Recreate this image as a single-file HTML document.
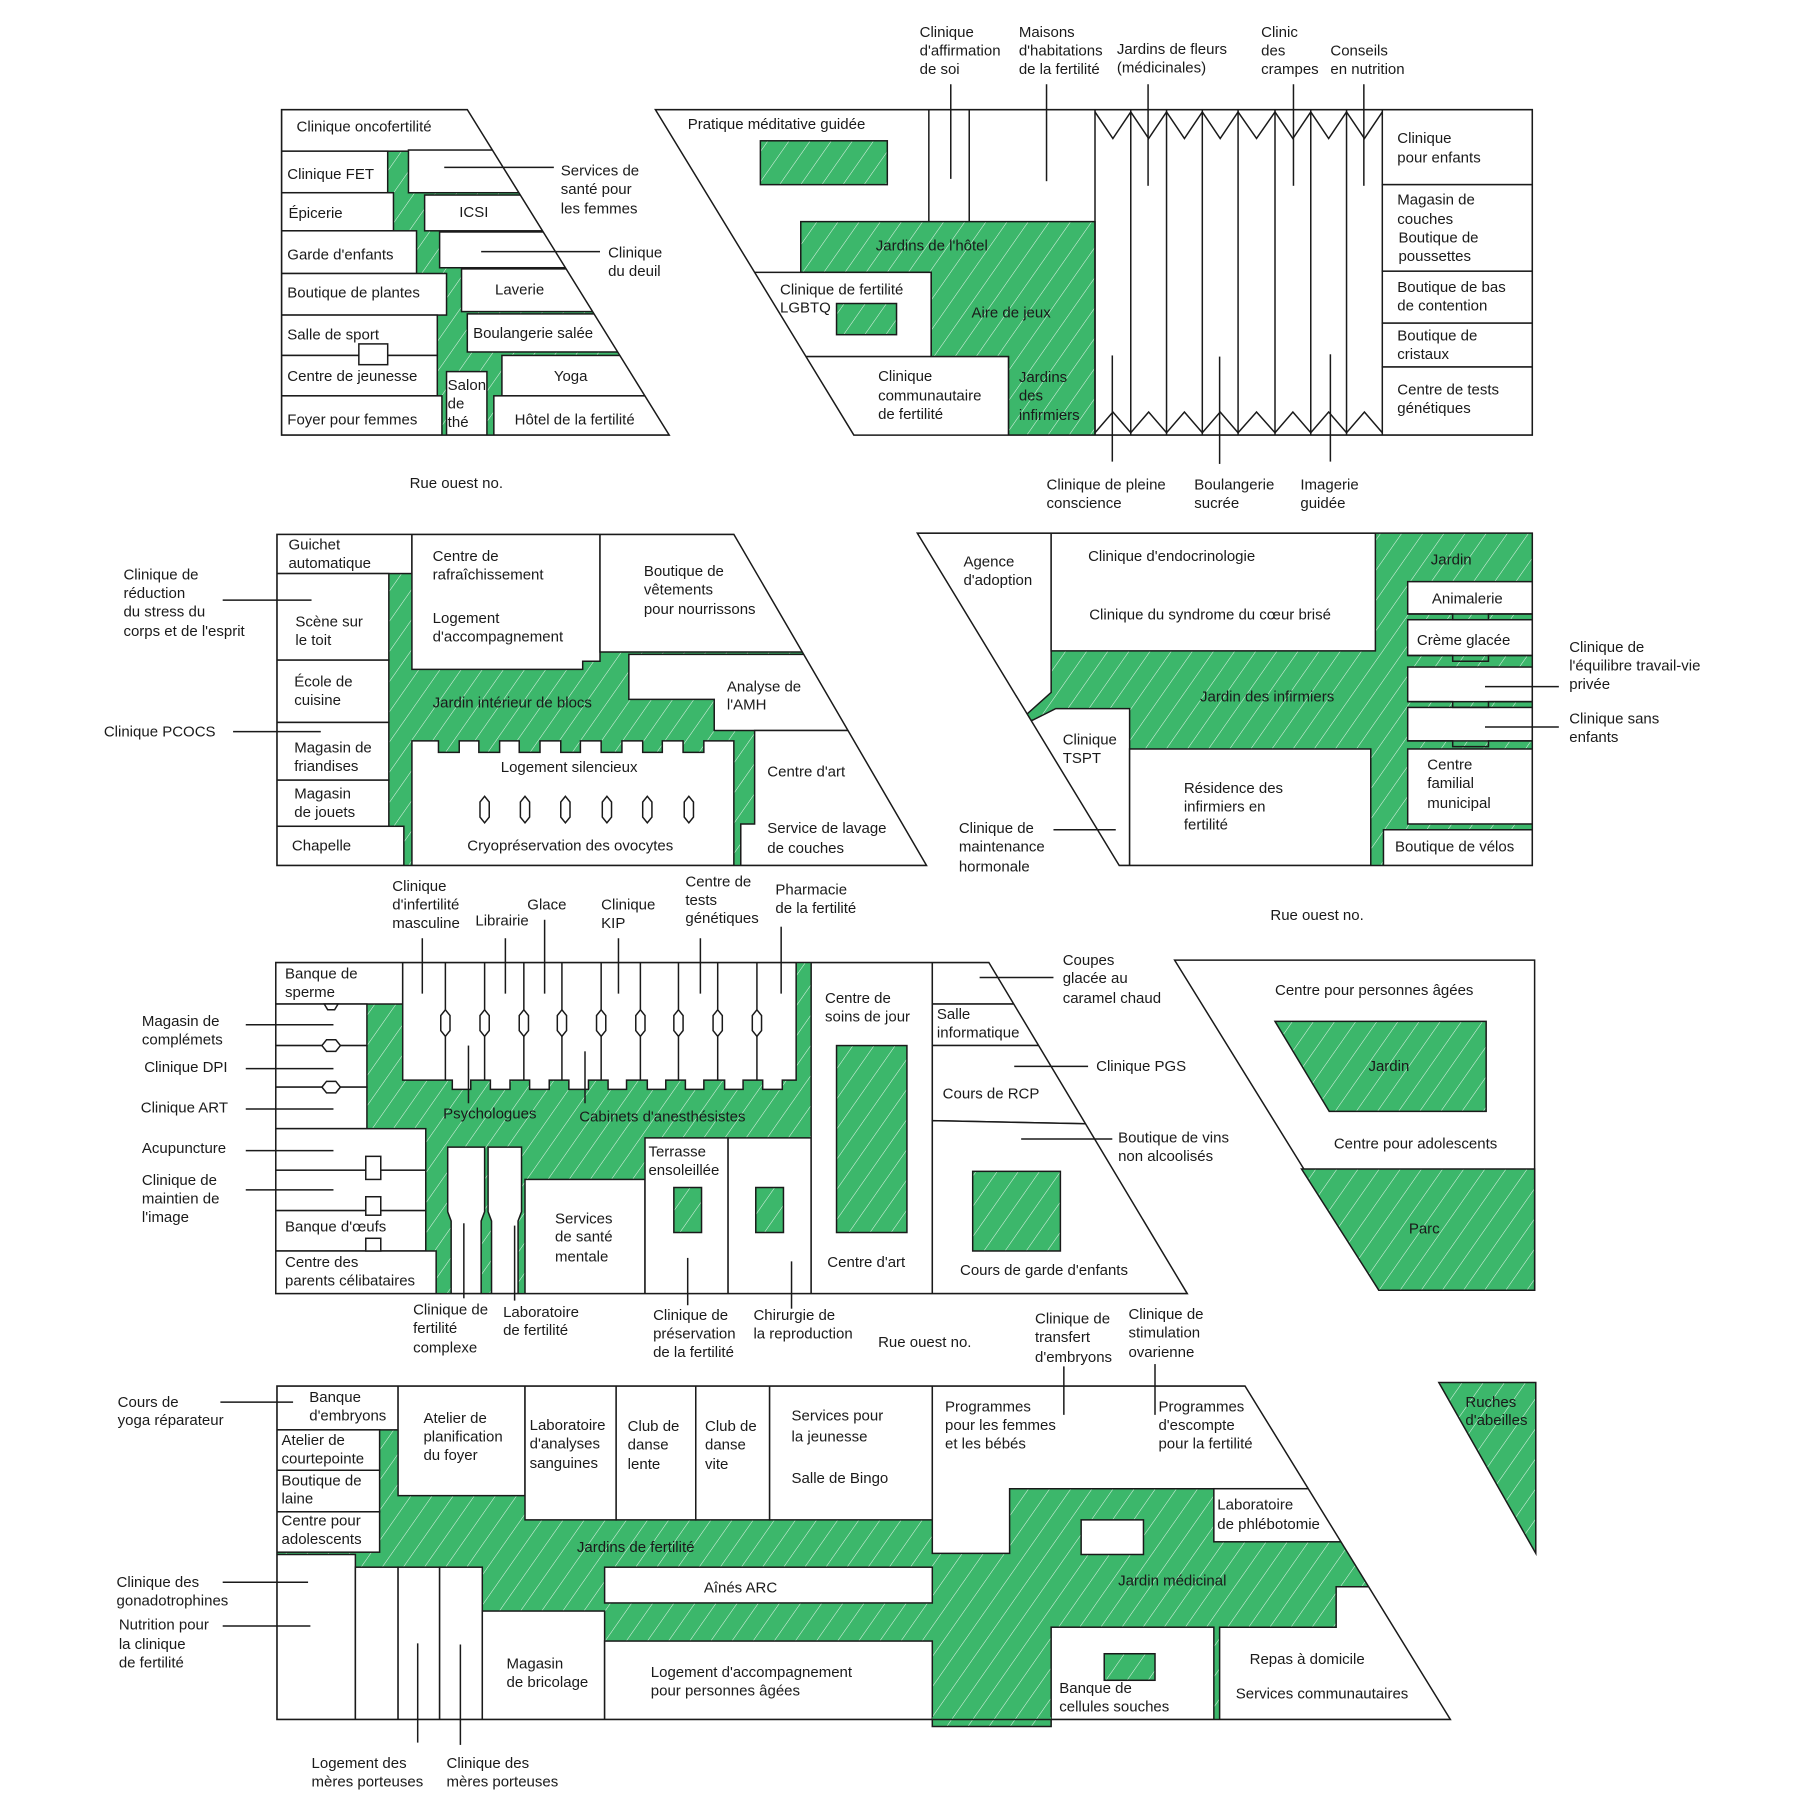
<!DOCTYPE html>
<html><head><meta charset="utf-8"><style>
html,body{margin:0;padding:0;background:#fff}
svg{display:block}
.b{fill:#fff;stroke:#1a1a1a;stroke-width:1.3}
.g{fill:url(#h);stroke:#1a1a1a;stroke-width:1.3}
.gf{fill:url(#h)}
.l{stroke:#1a1a1a;stroke-width:1.3;fill:none}
text{font-family:"Liberation Sans",sans-serif;font-size:13px;fill:#1a1a1a}
</style></head><body>
<svg width="1800" height="1813" viewBox="0 0 1560 1571" preserveAspectRatio="none" xmlns="http://www.w3.org/2000/svg">
<defs>
<pattern id="h" width="15" height="15" patternUnits="userSpaceOnUse" patternTransform="rotate(35)">
<rect width="15" height="15" fill="#3cb76b"/><line x1="0" y1="0" x2="0" y2="15" stroke="#fff" stroke-width="0.9" stroke-opacity="0.85"/></pattern>
<clipPath id="c1"><polygon points="244,95 405,95 580,377 244,377"/></clipPath>
<clipPath id="c2"><polygon points="568,95 1328,95 1328,377 740,377"/></clipPath>
<clipPath id="c3"><polygon points="240,463 636,463 803,750 240,750"/></clipPath>
<clipPath id="c4"><polygon points="795,462 1328,462 1328,750 970,750"/></clipPath>
<clipPath id="c5"><polygon points="239,834 857,834 1029,1121 239,1121"/></clipPath>
<clipPath id="c7"><polygon points="240,1201 1079,1201 1257,1490 240,1490"/></clipPath>
</defs>

<!-- ============ BLOCK 1 ============ -->
<g clip-path="url(#c1)">
<rect class="gf" x="240" y="90" width="350" height="290"/>
<rect class="b" x="244" y="95" width="400" height="36"/>
<rect class="b" x="244" y="131" width="92" height="36"/>
<rect class="b" x="244" y="167" width="97" height="33"/>
<rect class="b" x="244" y="200" width="117" height="37"/>
<rect class="b" x="244" y="237" width="143" height="36"/>
<rect class="b" x="244" y="273" width="135" height="35"/>
<rect class="b" x="244" y="308" width="135" height="35"/>
<rect class="b" x="244" y="343" width="139" height="34"/>
<rect class="b" x="311" y="298" width="25" height="18"/>
<rect class="b" x="354" y="130" width="300" height="37"/>
<rect class="b" x="368" y="169" width="300" height="31"/>
<rect class="b" x="381" y="201" width="300" height="31"/>
<rect class="b" x="400" y="233" width="300" height="37"/>
<rect class="b" x="405" y="272" width="300" height="33"/>
<rect class="b" x="435" y="308" width="300" height="35"/>
<rect class="b" x="428" y="343" width="300" height="34"/>
<rect class="b" x="387" y="322" width="35" height="55"/>
</g>
<polygon class="l" points="244,95 405,95 580,377 244,377"/>
<text x="257" y="114">Clinique oncofertilité</text>
<text x="249" y="155">Clinique FET</text>
<text x="250" y="189">Épicerie</text>
<text x="249" y="225">Garde d'enfants</text>
<text x="249" y="258">Boutique de plantes</text>
<text x="249" y="294">Salle de sport</text>
<text x="249" y="330">Centre de jeunesse</text>
<text x="249" y="368">Foyer pour femmes</text>
<text x="398" y="188">ICSI</text>
<text x="429" y="255">Laverie</text>
<text x="410" y="293">Boulangerie salée</text>
<text x="480" y="330">Yoga</text>
<text x="446" y="368">Hôtel de la fertilité</text>
<text x="388" y="338">Salon</text><text x="388" y="354">de</text><text x="388" y="370">thé</text>
<line class="l" x1="385" y1="145" x2="480" y2="145"/>
<text x="486" y="152">Services de</text><text x="486" y="168">santé pour</text><text x="486" y="185">les femmes</text>
<line class="l" x1="417" y1="218" x2="520" y2="218"/>
<text x="527" y="223">Clinique</text><text x="527" y="239">du deuil</text>
<text x="355" y="423">Rue ouest no.</text>

<!-- ============ BLOCK 2 ============ -->
<g clip-path="url(#c2)">
<rect class="b" x="560" y="95" width="780" height="282"/>
<rect class="g" x="659" y="122" width="110" height="38"/>
<polygon class="g" points="694,192 949,192 949,377 874,377 874,309 807,309 807,236 694,236"/>
<rect class="b" x="560" y="236" width="247" height="73"/>
<rect class="g" x="725" y="263" width="52" height="27"/>
<rect class="b" x="560" y="309" width="314" height="70"/>
<line class="l" x1="805" y1="95" x2="805" y2="192"/>
<line class="l" x1="840" y1="95" x2="840" y2="192"/>
<rect class="b" x="1198" y="95" width="130" height="65"/>
<rect class="b" x="1198" y="160" width="130" height="75"/>
<rect class="b" x="1198" y="235" width="130" height="45"/>
<rect class="b" x="1198" y="280" width="130" height="38"/>
<rect class="b" x="1198" y="318" width="130" height="59"/>
</g>
<g class="l">
<line x1="949" y1="95" x2="949" y2="377"/><line x1="980" y1="95" x2="980" y2="377"/>
<line x1="1011" y1="95" x2="1011" y2="377"/><line x1="1042" y1="95" x2="1042" y2="377"/>
<line x1="1073" y1="95" x2="1073" y2="377"/><line x1="1105" y1="95" x2="1105" y2="377"/>
<line x1="1136" y1="95" x2="1136" y2="377"/><line x1="1167" y1="95" x2="1167" y2="377"/>
<polyline points="949,97 964.5,120 980,97 995.5,120 1011,97 1026.5,120 1042,97 1057.5,120 1073,97 1089,120 1105,97 1120.5,120 1136,97 1151.5,120 1167,97 1182.5,120 1198,97"/>
<polyline points="949,375 964.5,357 980,375 995.5,357 1011,375 1026.5,357 1042,375 1057.5,357 1073,375 1089,357 1105,375 1120.5,357 1136,375 1151.5,357 1167,375 1182.5,357 1198,375"/>
<line x1="824" y1="73" x2="824" y2="155"/><line x1="907" y1="73" x2="907" y2="157"/>
<line x1="995" y1="73" x2="995" y2="161"/><line x1="1121" y1="73" x2="1121" y2="161"/>
<line x1="1182" y1="73" x2="1182" y2="161"/>
<line x1="964" y1="308" x2="964" y2="400"/><line x1="1057" y1="309" x2="1057" y2="402"/>
<line x1="1153" y1="307" x2="1153" y2="400"/>
</g>
<polygon class="l" points="568,95 1328,95 1328,377 740,377"/>
<text x="596" y="112">Pratique méditative guidée</text>
<text x="759" y="217">Jardins de l'hôtel</text>
<text x="676" y="255">Clinique de fertilité</text><text x="676" y="271">LGBTQ</text>
<text x="842" y="275">Aire de jeux</text>
<text x="761" y="330">Clinique</text><text x="761" y="347">communautaire</text><text x="761" y="363">de fertilité</text>
<text x="883" y="331">Jardins</text><text x="883" y="347">des</text><text x="883" y="364">infirmiers</text>
<text x="1211" y="124">Clinique</text><text x="1211" y="141">pour enfants</text>
<text x="1211" y="177">Magasin de</text><text x="1211" y="194">couches</text><text x="1212" y="210">Boutique de</text><text x="1212" y="226">poussettes</text>
<text x="1211" y="253">Boutique de bas</text><text x="1211" y="269">de contention</text>
<text x="1211" y="295">Boutique de</text><text x="1211" y="311">cristaux</text>
<text x="1211" y="342">Centre de tests</text><text x="1211" y="358">génétiques</text>
<text x="797" y="32">Clinique</text><text x="797" y="48">d'affirmation</text><text x="797" y="64">de soi</text>
<text x="883" y="32">Maisons</text><text x="883" y="48">d'habitations</text><text x="883" y="64">de la fertilité</text>
<text x="968" y="47">Jardins de fleurs</text><text x="968" y="63">(médicinales)</text>
<text x="1093" y="32">Clinic</text><text x="1093" y="48">des</text><text x="1093" y="64">crampes</text>
<text x="1153" y="48">Conseils</text><text x="1153" y="64">en nutrition</text>
<text x="907" y="424">Clinique de pleine</text><text x="907" y="440">conscience</text>
<text x="1035" y="424">Boulangerie</text><text x="1035" y="440">sucrée</text>
<text x="1127" y="424">Imagerie</text><text x="1127" y="440">guidée</text>

<!-- ============ BLOCK 3 ============ -->
<g clip-path="url(#c3)">
<rect class="gf" x="236" y="460" width="570" height="295"/>
<rect class="b" x="240" y="463" width="117" height="34"/>
<rect class="b" x="240" y="497" width="97" height="75"/>
<rect class="b" x="240" y="572" width="97" height="54"/>
<rect class="b" x="240" y="626" width="97" height="50"/>
<rect class="b" x="240" y="676" width="97" height="40"/>
<rect class="b" x="240" y="716" width="110" height="34"/>
<polygon class="b" points="357,463 520,463 520,573 505,573 505,580 357,580"/>
<polygon class="b" points="520,463 820,463 820,565 520,565"/>
<polygon class="b" points="545,567 820,567 820,633 619,633 619,606 545,606"/>
<polygon class="b" points="654,633 820,633 820,750 642,750 642,714 654,714"/>
<polygon class="b" points="357,642 380,642 380,652 398,652 398,642 415,642 415,652 433,652 433,642 450,642 450,652 468,652 468,642 486,642 486,652 503,652 503,642 521,642 521,652 539,652 539,642 557,642 557,652 574,652 574,642 592,642 592,652 610,652 610,642 636,642 636,750 357,750"/>
</g>
<g class="b">
<polygon points="420,690 424,695 424,708 420,713 416,708 416,695"/>
<polygon points="455,690 459,695 459,708 455,713 451,708 451,695"/>
<polygon points="490,690 494,695 494,708 490,713 486,708 486,695"/>
<polygon points="526,690 530,695 530,708 526,713 522,708 522,695"/>
<polygon points="561,690 565,695 565,708 561,713 557,708 557,695"/>
<polygon points="597,690 601,695 601,708 597,713 593,708 593,695"/>
</g>
<polygon class="l" points="240,463 636,463 803,750 240,750"/>
<text x="250" y="476">Guichet</text><text x="250" y="492">automatique</text>
<text x="256" y="543">Scène sur</text><text x="256" y="559">le toit</text>
<text x="255" y="595">École de</text><text x="255" y="611">cuisine</text>
<text x="255" y="652">Magasin de</text><text x="255" y="668">friandises</text>
<text x="255" y="692">Magasin</text><text x="255" y="708">de jouets</text>
<text x="253" y="737">Chapelle</text>
<text x="375" y="486">Centre de</text><text x="375" y="502">rafraîchissement</text>
<text x="375" y="540">Logement</text><text x="375" y="556">d'accompagnement</text>
<text x="558" y="499">Boutique de</text><text x="558" y="515">vêtements</text><text x="558" y="532">pour nourrissons</text>
<text x="630" y="599">Analyse de</text><text x="630" y="615">l'AMH</text>
<text x="375" y="613">Jardin intérieur de blocs</text>
<text x="434" y="669">Logement silencieux</text>
<text x="405" y="737">Cryopréservation des ovocytes</text>
<text x="665" y="673">Centre d'art</text>
<text x="665" y="722">Service de lavage</text><text x="665" y="739">de couches</text>
<line class="l" x1="193" y1="520" x2="270" y2="520"/>
<text x="107" y="502">Clinique de</text><text x="107" y="518">réduction</text><text x="107" y="534">du stress du</text><text x="107" y="551">corps et de l'esprit</text>
<line class="l" x1="202" y1="634" x2="278" y2="634"/>
<text x="90" y="638">Clinique PCOCS</text>

<!-- ============ BLOCK 4 ============ -->
<g clip-path="url(#c4)">
<rect class="gf" x="790" y="458" width="545" height="295"/>
<polygon class="b" points="700,462 911,462 911,600 882,626 700,626"/>
<rect class="b" x="911" y="462" width="281" height="102"/>
<polygon class="b" points="850,630 895,624 915,614 979,614 979,750 850,750"/>
<rect class="b" x="979" y="649" width="209" height="101"/>
<rect class="b" x="1220" y="504" width="108" height="28"/>
<rect class="b" x="1220" y="537" width="108" height="31"/>
<rect class="b" x="1220" y="578" width="108" height="30"/>
<rect class="b" x="1220" y="613" width="108" height="29"/>
<rect class="b" x="1220" y="649" width="108" height="65"/>
<rect class="b" x="1199" y="719" width="129" height="31"/>
</g>
<g class="l">
<polyline points="1220,532 1259,532 1259,537 1290,537 1290,532 1328,532"/>
<polyline points="1220,568 1259,568 1259,573 1290,573 1290,568 1328,568"/>
<polyline points="1220,608 1259,608 1259,613 1290,613 1290,608 1328,608"/>
<polyline points="1220,642 1259,642 1259,647 1290,647 1290,642 1328,642"/>
<line x1="1287" y1="595" x2="1351" y2="595"/><line x1="1287" y1="630" x2="1351" y2="630"/>
<line x1="913" y1="719" x2="967" y2="719"/>
</g>
<polygon class="l" points="795,462 1328,462 1328,750 970,750"/>
<text x="835" y="491">Agence</text><text x="835" y="507">d'adoption</text>
<text x="943" y="486">Clinique d'endocrinologie</text>
<text x="944" y="537">Clinique du syndrome du cœur brisé</text>
<text x="1240" y="489">Jardin</text>
<text x="1241" y="523">Animalerie</text>
<text x="1228" y="559">Crème glacée</text>
<text x="1040" y="608">Jardin des infirmiers</text>
<text x="921" y="645">Clinique</text><text x="921" y="661">TSPT</text>
<text x="1026" y="687">Résidence des</text><text x="1026" y="703">infirmiers en</text><text x="1026" y="719">fertilité</text>
<text x="1237" y="667">Centre</text><text x="1237" y="683">familial</text><text x="1237" y="700">municipal</text>
<text x="1209" y="738">Boutique de vélos</text>
<text x="1360" y="565">Clinique de</text><text x="1360" y="581">l'équilibre travail-vie</text><text x="1360" y="597">privée</text>
<text x="1360" y="627">Clinique sans</text><text x="1360" y="643">enfants</text>
<text x="831" y="722">Clinique de</text><text x="831" y="738">maintenance</text><text x="831" y="755">hormonale</text>
<text x="1101" y="797">Rue ouest no.</text>

<!-- ============ BLOCK 5 ============ -->
<g clip-path="url(#c5)">
<rect class="gf" x="235" y="830" width="800" height="295"/>
<rect class="b" x="239" y="834" width="110" height="36"/>
<rect class="b" x="239" y="870" width="79" height="36"/>
<rect class="b" x="239" y="906" width="79" height="36"/>
<rect class="b" x="239" y="942" width="79" height="36"/>
<rect class="b" x="239" y="978" width="130" height="36"/>
<rect class="b" x="239" y="1014" width="130" height="35"/>
<rect class="b" x="239" y="1049" width="130" height="35"/>
<rect class="b" x="239" y="1084" width="139" height="37"/>
<rect class="b" x="317" y="1002" width="13" height="20"/>
<rect class="b" x="317" y="1037" width="13" height="16"/>
<rect class="b" x="317" y="1073" width="13" height="11"/>
<polygon class="b" points="349,834 690,834 690,936 678,936 678,944 661,944 661,936 644,936 644,944 628,944 628,936 610,936 610,944 594,944 594,936 577,936 577,944 561,944 561,936 543,936 543,944 527,944 527,936 510,936 510,944 493,944 493,936 476,936 476,944 459,944 459,936 442,936 442,944 425,944 425,936 408,936 408,944 392,944 392,936 349,936"/>
<polygon class="b" points="388,994 420,994 420,1050 417,1058 417,1121 391,1121 391,1058 388,1050"/>
<polygon class="b" points="423,994 452,994 452,1050 449,1058 449,1121 426,1121 426,1058 423,1050"/>
<rect class="b" x="455" y="1022" width="104" height="99"/>
<rect class="b" x="559" y="986" width="72" height="135"/>
<rect class="g" x="584" y="1029" width="24" height="39"/>
<rect class="b" x="631" y="986" width="72" height="135"/>
<rect class="g" x="655" y="1029" width="24" height="39"/>
<rect class="b" x="703" y="834" width="105" height="287"/>
<rect class="g" x="725" y="906" width="61" height="162"/>
<rect class="b" x="808" y="834" width="240" height="36"/>
<rect class="b" x="808" y="870" width="240" height="36"/>
<polygon class="b" points="808,906 1048,906 1048,976 808,971"/>
<polygon class="b" points="808,971 1048,976 1048,1121 808,1121"/>
<rect class="g" x="843" y="1015" width="76" height="69"/>
</g>
<g class="l">
<line x1="386" y1="834" x2="386" y2="936"/><line x1="420" y1="834" x2="420" y2="936"/>
<line x1="454" y1="834" x2="454" y2="936"/><line x1="487" y1="834" x2="487" y2="936"/>
<line x1="521" y1="834" x2="521" y2="936"/><line x1="555" y1="834" x2="555" y2="936"/>
<line x1="588" y1="834" x2="588" y2="936"/><line x1="622" y1="834" x2="622" y2="936"/>
<line x1="656" y1="834" x2="656" y2="936"/>
</g>
<g class="b">
<polygon points="386,875 390,880 390,893 386,898 382,893 382,880"/>
<polygon points="420,875 424,880 424,893 420,898 416,893 416,880"/>
<polygon points="454,875 458,880 458,893 454,898 450,893 450,880"/>
<polygon points="487,875 491,880 491,893 487,898 483,893 483,880"/>
<polygon points="521,875 525,880 525,893 521,898 517,893 517,880"/>
<polygon points="555,875 559,880 559,893 555,898 551,893 551,880"/>
<polygon points="588,875 592,880 592,893 588,898 584,893 584,880"/>
<polygon points="622,875 626,880 626,893 622,898 618,893 618,880"/>
<polygon points="656,875 660,880 660,893 656,898 652,893 652,880"/>
<polygon points="279,906 283,901 291,901 295,906 291,911 283,911"/>
<polygon points="279,942 283,937 291,937 295,942 291,947 283,947"/>
<polygon points="281,870 293,870 290,875 284,875"/>
</g>
<g class="l">
<line x1="213" y1="888" x2="289" y2="888"/><line x1="213" y1="926" x2="289" y2="926"/>
<line x1="213" y1="961" x2="289" y2="961"/><line x1="213" y1="997" x2="289" y2="997"/>
<line x1="213" y1="1031" x2="289" y2="1031"/>
<line x1="366" y1="813" x2="366" y2="861"/><line x1="438" y1="813" x2="438" y2="861"/>
<line x1="472" y1="797" x2="472" y2="861"/><line x1="536" y1="813" x2="536" y2="861"/>
<line x1="607" y1="813" x2="607" y2="861"/><line x1="677" y1="803" x2="677" y2="861"/>
<line x1="406" y1="906" x2="406" y2="956"/><line x1="507" y1="911" x2="507" y2="956"/>
<line x1="402" y1="1060" x2="402" y2="1125"/><line x1="446" y1="1062" x2="446" y2="1127"/>
<line x1="596" y1="1090" x2="596" y2="1131"/><line x1="686" y1="1093" x2="686" y2="1134"/>
<line x1="849" y1="847" x2="913" y2="847"/><line x1="879" y1="924" x2="943" y2="924"/>
<line x1="885" y1="987" x2="964" y2="987"/>
</g>
<polygon class="l" points="239,834 857,834 1029,1121 239,1121"/>
<text x="247" y="848">Banque de</text><text x="247" y="864">sperme</text>
<text x="123" y="889">Magasin de</text><text x="123" y="905">complémets</text>
<text x="125" y="929">Clinique DPI</text>
<text x="122" y="964">Clinique ART</text>
<text x="123" y="999">Acupuncture</text>
<text x="123" y="1027">Clinique de</text><text x="123" y="1043">maintien de</text><text x="123" y="1059">l'image</text>
<text x="247" y="1067">Banque d'œufs</text>
<text x="247" y="1098">Centre des</text><text x="247" y="1114">parents célibataires</text>
<text x="340" y="772">Clinique</text><text x="340" y="788">d'infertilité</text><text x="340" y="804">masculine</text>
<text x="412" y="802">Librairie</text>
<text x="457" y="788">Glace</text>
<text x="521" y="788">Clinique</text><text x="521" y="804">KIP</text>
<text x="594" y="768">Centre de</text><text x="594" y="784">tests</text><text x="594" y="800">génétiques</text>
<text x="672" y="775">Pharmacie</text><text x="672" y="791">de la fertilité</text>
<text x="384" y="969">Psychologues</text>
<text x="502" y="972">Cabinets d'anesthésistes</text>
<text x="562" y="1002">Terrasse</text><text x="562" y="1018">ensoleillée</text>
<text x="481" y="1060">Services</text><text x="481" y="1076">de santé</text><text x="481" y="1093">mentale</text>
<text x="715" y="869">Centre de</text><text x="715" y="885">soins de jour</text>
<text x="717" y="1098">Centre d'art</text>
<text x="812" y="883">Salle</text><text x="812" y="899">informatique</text>
<text x="817" y="952">Cours de RCP</text>
<text x="832" y="1105">Cours de garde d'enfants</text>
<text x="921" y="836">Coupes</text><text x="921" y="852">glacée au</text><text x="921" y="869">caramel chaud</text>
<text x="950" y="928">Clinique PGS</text>
<text x="969" y="990">Boutique de vins</text><text x="969" y="1006">non alcoolisés</text>
<text x="358" y="1139">Clinique de</text><text x="358" y="1155">fertilité</text><text x="358" y="1172">complexe</text>
<text x="436" y="1141">Laboratoire</text><text x="436" y="1157">de fertilité</text>
<text x="566" y="1144">Clinique de</text><text x="566" y="1160">préservation</text><text x="566" y="1176">de la fertilité</text>
<text x="653" y="1144">Chirurgie de</text><text x="653" y="1160">la reproduction</text>
<text x="761" y="1167">Rue ouest no.</text>
<text x="897" y="1147">Clinique de</text><text x="897" y="1163">transfert</text><text x="897" y="1180">d'embryons</text>
<text x="978" y="1143">Clinique de</text><text x="978" y="1159">stimulation</text><text x="978" y="1176">ovarienne</text>

<!-- ============ BLOCK 6 ============ -->
<polygon class="b" points="1018,832 1330,832 1330,1118 1195,1118"/>
<polygon class="g" points="1105,885 1288,885 1288,963 1152,963"/>
<polygon class="g" points="1128,1013 1330,1013 1330,1118 1195,1118"/>
<text x="1105" y="862">Centre pour personnes âgées</text>
<text x="1186" y="928">Jardin</text>
<text x="1156" y="995">Centre pour adolescents</text>
<text x="1221" y="1069">Parc</text>

<!-- ============ BLOCK 7 ============ -->
<g clip-path="url(#c7)">
<rect class="gf" x="236" y="1196" width="1030" height="300"/>
<rect class="b" x="240" y="1201" width="105" height="38"/>
<rect class="b" x="240" y="1239" width="89" height="35"/>
<rect class="b" x="240" y="1274" width="89" height="36"/>
<rect class="b" x="240" y="1310" width="89" height="35"/>
<rect class="b" x="240" y="1347" width="68" height="143"/>
<rect class="b" x="345" y="1201" width="110" height="95"/>
<rect class="b" x="455" y="1201" width="79" height="116"/>
<rect class="b" x="534" y="1201" width="69" height="116"/>
<rect class="b" x="603" y="1201" width="64" height="116"/>
<rect class="b" x="667" y="1201" width="141" height="116"/>
<polygon class="b" points="808,1201 1200,1201 1200,1290 875,1290 875,1346 808,1346"/>
<rect class="b" x="1052" y="1290" width="260" height="46"/>
<rect class="b" x="937" y="1317" width="54" height="30"/>
<rect class="b" x="524" y="1358" width="284" height="31"/>
<rect class="b" x="308" y="1358" width="37" height="132"/>
<rect class="b" x="345" y="1358" width="36" height="132"/>
<rect class="b" x="381" y="1358" width="37" height="132"/>
<rect class="b" x="418" y="1396" width="106" height="94"/>
<rect class="b" x="524" y="1422" width="284" height="68"/>
<rect class="b" x="911" y="1410" width="141" height="80"/>
<rect class="g" x="957" y="1433" width="44" height="23"/>
<polygon class="b" points="1057,1410 1158,1410 1158,1375 1300,1375 1300,1490 1057,1490"/>
</g>
<rect class="gf" x="808" y="1488" width="103" height="8"/>
<polyline class="l" points="808,1490 808,1496 911,1496 911,1490"/>
<polygon class="l" points="240,1201 1079,1201 1257,1490 240,1490"/>
<polygon class="g" points="1247,1198 1331,1198 1331,1346"/>
<g class="l">
<line x1="191" y1="1215" x2="254" y2="1215"/>
<line x1="193" y1="1371" x2="267" y2="1371"/><line x1="193" y1="1409" x2="269" y2="1409"/>
<line x1="362" y1="1424" x2="362" y2="1510"/><line x1="399" y1="1425" x2="399" y2="1512"/>
<line x1="922" y1="1184" x2="922" y2="1226"/><line x1="1001" y1="1182" x2="1001" y2="1226"/>
</g>
<text x="102" y="1219">Cours de</text><text x="102" y="1235">yoga réparateur</text>
<text x="268" y="1215">Banque</text><text x="268" y="1231">d'embryons</text>
<text x="244" y="1252">Atelier de</text><text x="244" y="1268">courtepointe</text>
<text x="244" y="1287">Boutique de</text><text x="244" y="1303">laine</text>
<text x="244" y="1322">Centre pour</text><text x="244" y="1338">adolescents</text>
<text x="367" y="1233">Atelier de</text><text x="367" y="1249">planification</text><text x="367" y="1265">du foyer</text>
<text x="459" y="1239">Laboratoire</text><text x="459" y="1255">d'analyses</text><text x="459" y="1272">sanguines</text>
<text x="544" y="1240">Club de</text><text x="544" y="1256">danse</text><text x="544" y="1273">lente</text>
<text x="611" y="1240">Club de</text><text x="611" y="1256">danse</text><text x="611" y="1273">vite</text>
<text x="686" y="1231">Services pour</text><text x="686" y="1249">la jeunesse</text>
<text x="686" y="1285">Salle de Bingo</text>
<text x="819" y="1223">Programmes</text><text x="819" y="1239">pour les femmes</text><text x="819" y="1255">et les bébés</text>
<text x="1004" y="1223">Programmes</text><text x="1004" y="1239">d'escompte</text><text x="1004" y="1255">pour la fertilité</text>
<text x="1055" y="1308">Laboratoire</text><text x="1055" y="1325">de phlébotomie</text>
<text x="500" y="1345">Jardins de fertilité</text>
<text x="610" y="1380">Aînés ARC</text>
<text x="969" y="1374">Jardin médicinal</text>
<text x="439" y="1446">Magasin</text><text x="439" y="1462">de bricolage</text>
<text x="564" y="1453">Logement d'accompagnement</text><text x="564" y="1469">pour personnes âgées</text>
<text x="918" y="1467">Banque de</text><text x="918" y="1483">cellules souches</text>
<text x="1083" y="1442">Repas à domicile</text>
<text x="1071" y="1472">Services communautaires</text>
<text x="1270" y="1219">Ruches</text><text x="1270" y="1235">d'abeilles</text>
<text x="101" y="1375">Clinique des</text><text x="101" y="1391">gonadotrophines</text>
<text x="103" y="1412">Nutrition pour</text><text x="103" y="1429">la clinique</text><text x="103" y="1445">de fertilité</text>
<text x="270" y="1532">Logement des</text><text x="270" y="1548">mères porteuses</text>
<text x="387" y="1532">Clinique des</text><text x="387" y="1548">mères porteuses</text>
</svg>
</body></html>
